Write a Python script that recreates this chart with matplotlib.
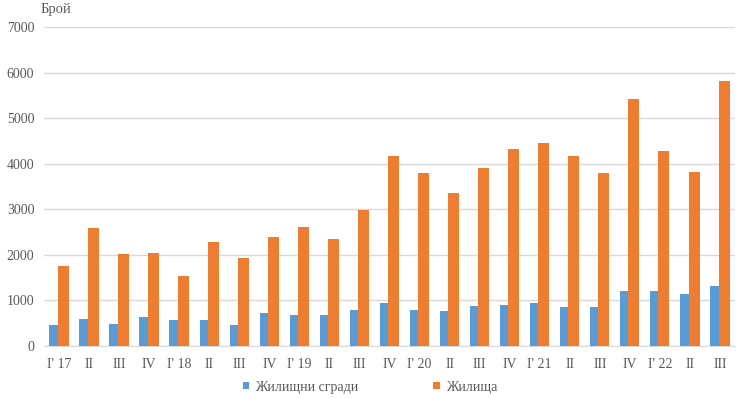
import numpy as np
import matplotlib
matplotlib.use("Agg")
import matplotlib.pyplot as plt

quarters = ["I' 17", "II", "III", "IV", "I' 18", "II", "III", "IV",
            "I' 19", "II", "III", "IV", "I' 20", "II", "III", "IV",
            "I' 21", "II", "III", "IV", "I' 22", "II", "III"]
buildings = [465, 595, 490, 640, 565, 565, 465, 715, 670, 670, 795, 935,
             785, 760, 880, 910, 940, 860, 860, 1210, 1210, 1135, 1310]
dwellings = [1760, 2585, 2010, 2040, 1535, 2290, 1935, 2385, 2610, 2340, 2990, 4170,
             3790, 3365, 3915, 4315, 4460, 4170, 3790, 5410, 4285, 3815, 5805]

BLUE = "#5B9BD5"
ORANGE = "#ED7D31"
GREY = "#595959"

plt.rcParams['font.family'] = ['Liberation Serif', 'DejaVu Serif']

fig = plt.figure(figsize=(7.4, 3.98), dpi=100)
ax = fig.add_axes([44/740, 52/398, 691/740, 319/398])

x = np.arange(len(quarters))
ax.bar(x - 0.323, buildings, width=0.276, align='edge', color=BLUE,
       label="Жилищни сгради", zorder=3)
ax.bar(x - 0.047, dwellings, width=0.366, align='edge', color=ORANGE,
       label="Жилища", zorder=3)

ax.set_xlim(-0.5, len(quarters) - 0.5)
ax.set_ylim(0, 7000)
ax.set_yticks(range(0, 7001, 1000))
ax.set_xticks(x)
ax.set_xticklabels(quarters)
ax.grid(axis='y', color='#d9d9d9', lw=1, zorder=0)
for s in ['top', 'right', 'left']:
    ax.spines[s].set_visible(False)
ax.spines['bottom'].set_color('#d9d9d9')
ax.tick_params(length=0, labelsize=10, colors=GREY)
ax.tick_params(axis='x', pad=9)
ax.tick_params(axis='y', pad=7)

fig.text(41/740, 1 - 9/398, "Брой", fontsize=10.5, color=GREY, va='center')

leg = fig.legend(loc='center', bbox_to_anchor=(370/740, 1 - 387/398), ncol=2,
                 frameon=False, fontsize=10, handlelength=0.45, handleheight=0.45,
                 handletextpad=0.45, columnspacing=5.4)
for t in leg.get_texts():
    t.set_color(GREY)

fig.savefig("out.png", dpi=100)
